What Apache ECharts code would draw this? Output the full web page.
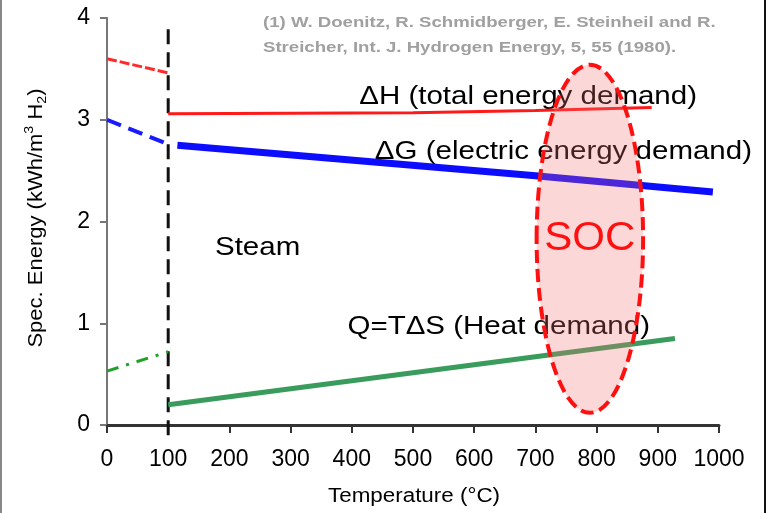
<!DOCTYPE html>
<html>
<head>
<meta charset="utf-8">
<script src="https://cdn.jsdelivr.net/npm/echarts@6/dist/echarts.min.js"></script>
<style>
html,body{margin:0;padding:0;background:#fff;}
#chart{width:771px;height:513px;}
</style>
</head>
<body>
<div id="chart"></div>
<script>
// ---- data ----
const dhLowT  = [[0, 3.60], [100, 3.46]];
const dhHighT = [[100, 3.06], [500, 3.07], [700, 3.09], [890, 3.12]];
const dgLowT  = [[0, 3.00], [100, 2.76]];
const dgHighT = [[115, 2.75], [700, 2.45], [990, 2.29]];
const qLowT   = [[0, 0.53], [100, 0.72]];
const qHighT  = [[100, 0.20], [928, 0.85]];
const steamBoundary = [[100, -0.1], [100, 3.95]];
// center x, center y, radius x, radius y (data units)
const socRegion = [[789, 1.83, 87, 1.71]];
const xRange = [0, 1000, 100];
const yRange = [0, 4, 1];

const FONT = '"Liberation Sans", Arial, sans-serif';

const chart = echarts.init(document.getElementById('chart'), null, {renderer: 'canvas'});

function lineSeries(data, color, width, dash, z) {
  return {
    type: 'line', data: data, symbol: 'none', clip: false, z: z || 3,
    lineStyle: {color: color, width: width, type: dash || 'solid', cap: 'butt'},
    silent: true, animation: false
  };
}

const option = {
  animation: false,
  backgroundColor: '#fff',
  grid: {left: 107, right: 52, top: 18, bottom: 88, containLabel: false},
  xAxis: {
    type: 'value', min: xRange[0], max: xRange[1], interval: xRange[2],
    axisLine: {show: true, lineStyle: {color: '#333', width: 3}},
    axisTick: {show: true, length: 8, lineStyle: {color: '#333', width: 2}},
    axisLabel: {fontSize: 23, fontFamily: FONT, color: '#000', margin: 23,
      formatter: function (v) { return String(v); }},
    splitLine: {show: false}
  },
  yAxis: {
    type: 'value', min: yRange[0], max: yRange[1], interval: yRange[2],
    axisLine: {show: true, lineStyle: {color: '#777', width: 2}},
    axisTick: {show: true, length: 7, lineStyle: {color: '#777', width: 2}},
    axisLabel: {fontSize: 23, fontFamily: FONT, color: '#000', margin: 17,
      formatter: function (v) { return String(v); }},
    splitLine: {show: false}
  },
  graphic: [
    {type: 'line', shape: {x1: 1, y1: 0, x2: 1, y2: 513}, style: {stroke: '#888', lineWidth: 2}, z: 0},
    {type: 'line', shape: {x1: 765, y1: 0, x2: 765, y2: 513}, style: {stroke: '#111', lineWidth: 2}, z: 0},
    {type: 'text', x: 263, y: 35.5, scaleX: 1.24, z: 0,
      style: {text: '(1) W. Doenitz, R. Schmidberger, E. Steinheil and R.\nStreicher, Int. J. Hydrogen Energy, 5, 55 (1980).',
        fontSize: 15, fontWeight: 'bold', fontFamily: FONT, fill: '#a0a0a0', lineHeight: 25,
        align: 'left', verticalAlign: 'middle', textAlign: 'left', textVerticalAlign: 'middle'}},
    {type: 'text', x: 697, y: 97, scaleX: 1.18, z: 0,
      style: {text: 'ΔH (total energy demand)', fontSize: 25, fontFamily: FONT, fill: '#000',
        align: 'right', verticalAlign: 'middle', textAlign: 'right', textVerticalAlign: 'middle'}},
    {type: 'text', x: 752, y: 152, scaleX: 1.18, z: 0,
      style: {text: 'ΔG (electric energy demand)', fontSize: 25, fontFamily: FONT, fill: '#000',
        align: 'right', verticalAlign: 'middle', textAlign: 'right', textVerticalAlign: 'middle'}},
    {type: 'text', x: 215, y: 248, scaleX: 1.18, z: 0,
      style: {text: 'Steam', fontSize: 25, fontFamily: FONT, fill: '#000',
        align: 'left', verticalAlign: 'middle', textAlign: 'left', textVerticalAlign: 'middle'}},
    {type: 'text', x: 650, y: 327, scaleX: 1.18, z: 0,
      style: {text: 'Q=TΔS (Heat demand)', fontSize: 25, fontFamily: FONT, fill: '#000',
        align: 'right', verticalAlign: 'middle', textAlign: 'right', textVerticalAlign: 'middle'}},
    {type: 'text', x: 414, y: 496, scaleX: 1.12, z: 0,
      style: {text: 'Temperature (°C)', fontSize: 20, fontFamily: FONT, fill: '#000',
        align: 'center', verticalAlign: 'middle', textAlign: 'center', textVerticalAlign: 'middle'}},
    {type: 'text', x: 36, y: 218, rotation: Math.PI / 2, scaleX: 1.1, z: 0,
      style: {text: '{a|Spec. Energy (kWh/m}{s|3}{a| H}{b|2}{a|)}',
        fontFamily: FONT, fill: '#000',
        rich: {
          a: {fontSize: 20, fontFamily: FONT, fill: '#000', color: '#000', lineHeight: 26, verticalAlign: 'middle'},
          s: {fontSize: 13, fontFamily: FONT, fill: '#000', color: '#000', lineHeight: 13, verticalAlign: 'top'},
          b: {fontSize: 13, fontFamily: FONT, fill: '#000', color: '#000', lineHeight: 13, verticalAlign: 'bottom'}
        },
        align: 'center', verticalAlign: 'middle', textAlign: 'center', textVerticalAlign: 'middle'}}
  ],
  series: [
    lineSeries(steamBoundary, '#111', 3, [15, 8]),
    lineSeries(dhLowT, '#ff2a2a', 3, [10, 3]),
    lineSeries(dhHighT, '#ff1a1a', 3),
    lineSeries(dgLowT, '#1a1aff', 4, [15, 8]),
    lineSeries(dgHighT, '#0c0cff', 7),
    lineSeries(qLowT, '#22a02a', 3, [12, 8, 3, 8]),
    lineSeries(qHighT, '#3a9c5c', 5),
    {
      type: 'custom', data: socRegion, z: 10, silent: true, animation: false, clip: false,
      renderItem: function (params, api) {
        const c = api.coord([api.value(0), api.value(1)]);
        const s = api.size([api.value(2), api.value(3)]);
        return {
          type: 'group',
          children: [
            {type: 'ellipse', shape: {cx: c[0], cy: c[1], rx: s[0], ry: s[1]},
              style: {fill: 'rgba(245,110,110,0.28)', stroke: '#ff1010', lineWidth: 4, lineDash: [13, 6]}},
            {type: 'text', x: c[0], y: c[1], scaleX: 1.05,
              style: {text: 'SOC', fontSize: 40, fontFamily: FONT, fill: '#ff1010',
                align: 'center', verticalAlign: 'middle', textAlign: 'center', textVerticalAlign: 'middle'}}
          ]
        };
      }
    }
  ]
};
chart.setOption(option);
</script>
</body>
</html>
